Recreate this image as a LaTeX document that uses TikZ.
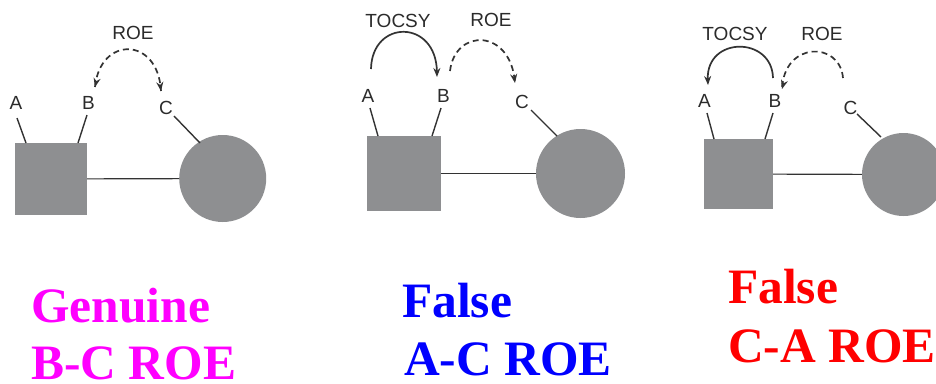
\documentclass[tikz,border=0pt]{standalone}
\usepackage{fontspec}
\setmainfont{Liberation Serif}
\newfontfamily\lblfont{Liberation Sans}
\usetikzlibrary{arrows.meta}
\definecolor{shapegray}{HTML}{8E8F91}
\definecolor{inkgray}{HTML}{2B2B2B}
\definecolor{linegray}{HTML}{333333}
\definecolor{capmagenta}{HTML}{FF00FF}
\definecolor{capblue}{HTML}{0000FF}
\definecolor{capred}{HTML}{FF0000}
\begin{document}
\begin{tikzpicture}[x=1pt,y=-1pt,
  lbl/.style={font=\lblfont\fontsize{19}{19}\selectfont, text=inkgray, inner sep=0},
  sqbox/.style={rectangle, fill=shapegray, inner sep=0},
  ringnode/.style={circle, fill=shapegray, inner sep=0},
  bond/.style={draw=linegray, line width=1.4pt},
  link/.style={draw=linegray, line width=1.2pt},
  tocsyarc/.style={draw=linegray, line width=1.7pt, -{Stealth[length=9pt,width=7pt]}},
  roearc/.style={draw=linegray, line width=1.7pt, dash pattern=on 6pt off 4pt},
  tip/.style={draw=linegray, line width=1.7pt, -{Stealth[length=9pt,width=7pt]}},
  big/.style={font=\bfseries\fontsize{49.5}{50}\selectfont, inner sep=0, anchor=base west}
]
\useasboundingbox (0,0) rectangle (936,383);

% ---------------- Panel 1 ----------------
\node[sqbox, minimum width=72pt, minimum height=72pt] (sq1) at (51,179) {};
\node[ringnode, minimum size=87pt] (ci1) at (222.7,178.5) {};
\draw[link] (sq1) -- (ci1);
\node[lbl] (a1) at (16,103) {A};
\node[lbl] (b1) at (88.5,103) {B};
\node[lbl] (c1) at (166,108) {C};
\node[lbl] (roe1) at (133,33) {ROE};
\coordinate (a1t) at (17,118); \coordinate (a1s) at (26,143);
\coordinate (b1t) at (87,115); \coordinate (b1s) at (78,143);
\coordinate (c1t) at (174,116); \coordinate (c1s) at (200,143);
\draw[bond] (a1t) -- (a1s);
\draw[bond] (b1t) -- (b1s);
\draw[bond] (c1t) -- (c1s);
\coordinate (r1l) at (95,87); \coordinate (r1r) at (161,91);
\draw[roearc] (r1l) .. controls (100,36) and (158,36) .. (r1r);
\draw[tip] (96.4,81) -- (r1l);
\draw[tip] (160.2,85) -- (r1r);

% ---------------- Panel 2 ----------------
\node[sqbox, minimum width=74pt, minimum height=75pt] (sq2) at (404,173.5) {};
\node[ringnode, minimum size=89pt] (ci2) at (580.5,173.5) {};
\draw[link] (sq2) -- (ci2);
\node[lbl] (a2) at (368,96) {A};
\node[lbl] (b2) at (443.5,96) {B};
\node[lbl] (c2) at (522,102) {C};
\node[lbl] (tocsy2) at (398,21) {TOCSY};
\node[lbl] (roe2) at (491,20) {ROE};
\coordinate (a2t) at (370,108); \coordinate (a2s) at (378,136);
\coordinate (b2t) at (441,108); \coordinate (b2s) at (432,136);
\coordinate (c2t) at (531,110); \coordinate (c2s) at (557,136);
\draw[bond] (a2t) -- (a2s);
\draw[bond] (b2t) -- (b2s);
\draw[bond] (c2t) -- (c2s);
\coordinate (t2s) at (371,69); \coordinate (t2e) at (437,77);
\draw[tocsyarc] (t2s) .. controls (372,19) and (436,19) .. (t2e);
\coordinate (r2s) at (450,71); \coordinate (r2e) at (515,83);
\draw[roearc] (r2s) .. controls (455,28) and (511,28) .. (r2e);
\draw[tip] (514.1,77) -- (r2e);

% ---------------- Panel 3 ----------------
\node[sqbox, minimum width=69pt, minimum height=70pt] (sq3) at (738.5,174) {};
\node[ringnode, minimum size=83pt] (ci3) at (903.5,174.5) {};
\draw[link] (sq3) -- (ci3);
\node[lbl] (a3) at (704.5,101) {A};
\node[lbl] (b3) at (775,101) {B};
\node[lbl] (c3) at (850.5,107.5) {C};
\node[lbl] (tocsy3) at (735,34) {TOCSY};
\node[lbl] (roe3) at (822,34) {ROE};
\coordinate (a3t) at (707,113); \coordinate (a3s) at (714,139);
\coordinate (b3t) at (773,113); \coordinate (b3s) at (765,139);
\coordinate (c3t) at (857,114); \coordinate (c3s) at (881,137);
\draw[bond] (a3t) -- (a3s);
\draw[bond] (b3t) -- (b3s);
\draw[bond] (c3t) -- (c3s);
\coordinate (t3s) at (773,78); \coordinate (t3e) at (708,85);
\draw[tocsyarc] (t3s) .. controls (772,36) and (706,36) .. (t3e);
\coordinate (r3s) at (843,78); \coordinate (r3e) at (782,89);
\draw[roearc] (r3s) .. controls (840,41) and (784,41) .. (r3e);
\draw[tip] (783.7,83) -- (r3e);

% ---------------- Captions ----------------
\node[big, text=capmagenta] (g1) at (31,322) {Genuine};
\node[big, text=capmagenta] (g2) at (31,379) {B-C ROE};
\node[big, text=capblue] (f1) at (402,317) {False};
\node[big, text=capblue] (f2) at (404,375) {A-C ROE};
\node[big, text=capred] (h1) at (728,303) {False};
\node[big, text=capred] (h2) at (728,362) {C-A ROE};
\end{tikzpicture}
\end{document}
